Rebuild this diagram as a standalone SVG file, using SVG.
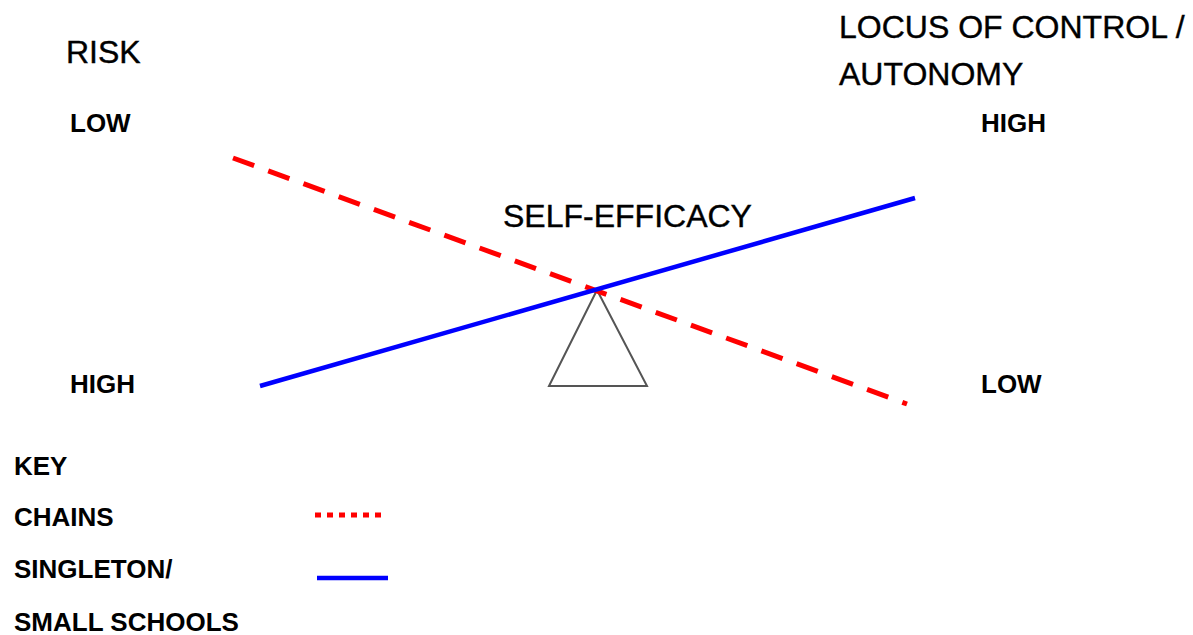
<svg xmlns="http://www.w3.org/2000/svg" width="1193" height="635" viewBox="0 0 1193 635">
<style>
.big{font-family:"Liberation Sans",Arial,sans-serif;font-size:32px;fill:#000;stroke:#000;stroke-width:0.4}
.sm{font-family:"Liberation Sans",Arial,sans-serif;font-size:26px;font-weight:bold;fill:#000}
.chain{stroke:#ff0000;stroke-width:5;fill:none}
.single{stroke:#0000ff;stroke-width:4.5;fill:none}
</style>
<rect width="1193" height="635" fill="#fff"/>
<g id="labels">
<text class="big" x="66" y="63">RISK</text>
<text class="big" x="839" y="38">LOCUS OF CONTROL /</text>
<text class="big" x="839" y="85">AUTONOMY</text>
<text class="sm" x="70" y="132">LOW</text>
<text class="sm" x="981" y="132">HIGH</text>
<text class="sm" x="70" y="393">HIGH</text>
<text class="sm" x="981" y="393">LOW</text>
</g>
<g id="fulcrum">
<polygon points="597,290 549,386 647,386" fill="none" stroke="#555" stroke-width="2"/>
</g>
<g id="self-efficacy">
<text class="big" x="503" y="227">SELF-EFFICACY</text>
</g>
<g id="connectors">
<line class="chain" x1="233" y1="158" x2="907" y2="404" stroke-dasharray="22.5 15"/>
<line class="single" x1="260" y1="386" x2="915" y2="198"/>
</g>
<g id="key">
<text class="sm" x="14" y="475">KEY</text>
<text class="sm" x="14" y="526">CHAINS</text>
<text class="sm" x="14" y="578">SINGLETON/</text>
<text class="sm" x="14" y="631">SMALL SCHOOLS</text>
<line class="chain" x1="315" y1="515" x2="383" y2="515" stroke-dasharray="6 6" stroke-width="5"/>
<line class="single" x1="317" y1="578" x2="388" y2="578" stroke-width="5"/>
</g>
</svg>
